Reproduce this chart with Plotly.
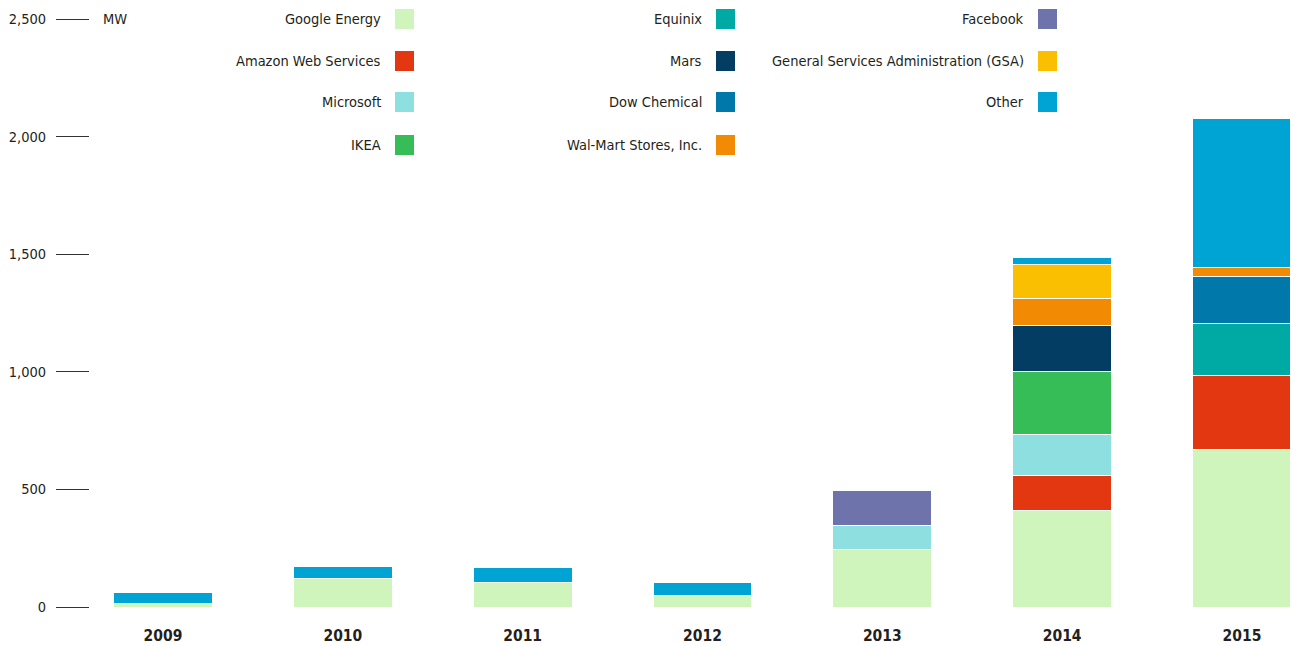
import plotly.graph_objects as go

years = ["2009", "2010", "2011", "2012", "2013", "2014", "2015"]

google = [15, 122, 105, 51, 245, 411, 671]
amazon = [0, 0, 0, 0, 0, 146, 314]
microsoft = [0, 0, 0, 0, 103, 175, 0]
ikea = [0, 0, 0, 0, 0, 268, 0]
equinix = [0, 0, 0, 0, 0, 0, 221]
mars = [0, 0, 0, 0, 0, 199, 0]
dow = [0, 0, 0, 0, 0, 0, 201]
walmart = [0, 0, 0, 0, 0, 113, 37]
facebook = [0, 0, 0, 0, 148, 0, 0]
gsa = [0, 0, 0, 0, 0, 144, 0]
other = [46, 52, 62, 52, 0, 31, 633]

series_names = ["Google Energy", "Amazon Web Services", "Microsoft", "IKEA",
                "Equinix", "Mars", "Dow Chemical", "Wal-Mart Stores, Inc.",
                "Facebook", "General Services Administration (GSA)", "Other"]
series_values = [google, amazon, microsoft, ikea, equinix, mars, dow, walmart,
                 facebook, gsa, other]
series_colors = ["#CFF5BC", "#E23711", "#8EDFDF", "#36BD57", "#00AAA4", "#033D63",
                 "#0078A9", "#F28A03", "#6E73AC", "#FBBF02", "#00A4D4"]

ytick_vals = [0, 500, 1000, 1500, 2000, 2500]
ytick_text = ["0", "500", "1,000", "1,500", "2,000", "2,500"]

FONT = "DejaVu Sans Condensed, Liberation Sans Narrow, Roboto, sans-serif"
TXT = "#231F20"

fig = go.Figure()
for name, vals, col in zip(series_names, series_values, series_colors):
    fig.add_trace(go.Bar(
        x=years, y=vals, name=name,
        marker=dict(color=col, line=dict(color="white", width=1)),
        showlegend=False, hoverinfo="skip",
    ))

# page body has an 8px margin; work in screen pixels and convert
OFF = 8
W, H = 1290, 638
L, R, T, B = 82, 3, 11, 39
pw = W - L - R
ph = H - T - B


def px_x(px):
    return (px - OFF - L) / pw


def px_y(py):
    return (H - B - (py - OFF)) / ph


# manual legend: 3 columns, text right-aligned with swatch on the right
col_sq_left = [395, 716, 1038]
row_y = [19, 61, 102, 145]
layout_cols = [[0, 1, 2, 3], [4, 5, 6, 7], [8, 9, 10]]
shapes = []
annotations = []
for c, idxs in enumerate(layout_cols):
    for r, i in enumerate(idxs):
        sx = col_sq_left[c]
        cy = row_y[r]
        shapes.append(dict(type="rect", xref="paper", yref="paper",
                           x0=px_x(sx), x1=px_x(sx + 19),
                           y0=px_y(cy + 10), y1=px_y(cy - 10),
                           fillcolor=series_colors[i], line=dict(width=0)))
        annotations.append(dict(xref="paper", yref="paper",
                                x=px_x(sx - 12), y=px_y(cy),
                                xanchor="right", yanchor="middle",
                                text=series_names[i], showarrow=False,
                                font=dict(family=FONT, size=14.5, color=TXT)))

annotations.append(dict(xref="paper", yref="paper", x=px_x(101), y=px_y(19),
                        xanchor="left", yanchor="middle", text="MW",
                        showarrow=False, font=dict(family=FONT, size=14.5, color=TXT)))

fig.update_layout(
    barmode="stack",
    bargap=0.45,
    width=W, height=H,
    margin=dict(l=L, r=R, t=T, b=B, pad=0),
    plot_bgcolor="white", paper_bgcolor="white",
    font=dict(family=FONT, size=15, color=TXT),
    shapes=shapes,
    annotations=annotations,
    xaxis=dict(
        range=[-0.406, 6.295],
        automargin=False,
        showgrid=False, zeroline=False, showline=False,
        ticks="outside", ticklen=14, tickcolor="rgba(0,0,0,0)",
        tickfont=dict(family=FONT, size=15.5, color=TXT, weight="bold"),
    ),
    yaxis=dict(
        range=[0, 2500],
        automargin=False,
        tickvals=ytick_vals, ticktext=ytick_text,
        showgrid=False, zeroline=False, showline=False,
        ticks="outside", ticklen=33, tickcolor="#333333", tickwidth=1,
        ticklabelstandoff=7,
        tickfont=dict(family=FONT, size=14.5, color=TXT),
    ),
)

fig.write_html("out.html")
